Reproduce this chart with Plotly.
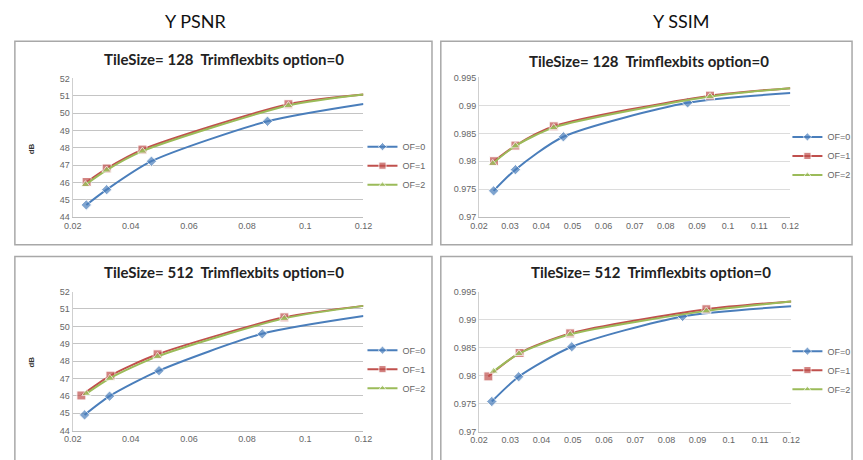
import plotly.graph_objects as go

# ---------------- data ----------------
series_names = ["OF=0", "OF=1", "OF=2"]
series_colors = ["#4A7EBB", "#C0504D", "#9BBB59"]
series_symbols = ["diamond", "square", "triangle-up"]

# bitrate (x) for TileSize=128, per OF option (last value = where the curve meets the axis end)
bpp128_of0 = [0.0247, 0.0317, 0.0471, 0.0870, 0.12]
bpp128_of1 = [0.0248, 0.0317, 0.0440, 0.0942, 0.12]
bpp128_of2 = [0.0244, 0.0317, 0.0440, 0.0942, 0.12]
# bitrate (x) for TileSize=512
bpp512_of0 = [0.0241, 0.0327, 0.0497, 0.0852, 0.12]
bpp512_of1 = [0.0230, 0.0330, 0.0492, 0.0928, 0.12]
bpp512_of2 = [0.0247, 0.0328, 0.0492, 0.0928, 0.12]

psnr128_of0 = [44.71, 45.59, 47.23, 49.53, 50.53]
psnr128_of1 = [46.03, 46.81, 47.90, 50.51, 51.07]
psnr128_of2 = [45.88, 46.72, 47.81, 50.44, 51.07]

ssim128_of0 = [0.97472, 0.97851, 0.98439, 0.99045, 0.99220]
ssim128_of1 = [0.98002, 0.98282, 0.98626, 0.99174, 0.99308]
ssim128_of2 = [0.97962, 0.98276, 0.98603, 0.99157, 0.99308]

psnr512_of0 = [44.90, 45.98, 47.45, 49.57, 50.59]
psnr512_of1 = [46.02, 47.16, 48.39, 50.52, 51.18]
psnr512_of2 = [46.13, 47.01, 48.27, 50.46, 51.18]

ssim512_of0 = [0.97536, 0.97979, 0.98515, 0.99057, 0.99238]
ssim512_of1 = [0.97985, 0.98404, 0.98754, 0.99185, 0.99325]
ssim512_of2 = [0.98078, 0.98393, 0.98737, 0.99156, 0.99325]

column_titles = ["Y PSNR", "Y SSIM"]
panel_titles = ["TileSize= 128  Trimflexbits option=0",
                "TileSize= 128  Trimflexbits option=0",
                "TileSize= 512  Trimflexbits option=0",
                "TileSize= 512  Trimflexbits option=0"]
psnr_yticks = [44, 45, 46, 47, 48, 49, 50, 51, 52]
ssim_yticks = [0.97, 0.975, 0.98, 0.985, 0.99, 0.995]
psnr_xticks = [0.02, 0.04, 0.06, 0.08, 0.1, 0.12]
ssim_xticks = [0.02, 0.03, 0.04, 0.05, 0.06, 0.07, 0.08, 0.09, 0.1, 0.11, 0.12]
psnr_ytitle = "dB"

# ---------------- layout helpers ----------------
W, H = 863, 460
def px(x):
    return x / W
def py(y):
    return 1 - y / H

panels = [
    # (xs, ys, xdomain px, ydomain px(top,bottom), yticks, xticks, title center, legend pos)
    ([bpp128_of0, bpp128_of1, bpp128_of2], [psnr128_of0, psnr128_of1, psnr128_of2],
     (65, 362), (75, 217), psnr_yticks, psnr_xticks, (220, 55), 361, 130),
    ([bpp128_of0, bpp128_of1, bpp128_of2], [ssim128_of0, ssim128_of1, ssim128_of2],
     (480, 798), (74, 217), ssim_yticks, ssim_xticks, (654, 57), 795, 120),
    ([bpp512_of0, bpp512_of1, bpp512_of2], [psnr512_of0, psnr512_of1, psnr512_of2],
     (65, 362), (293, 435), psnr_yticks, psnr_xticks, (220, 273), 361, 338),
    ([bpp512_of0, bpp512_of1, bpp512_of2], [ssim512_of0, ssim512_of1, ssim512_of2],
     (480, 799), (293, 436), ssim_yticks, ssim_xticks, (656, 273), 795, 339),
]

fig = go.Figure()
layout = dict(
    width=W, height=H,
    margin=dict(l=0, r=0, t=0, b=0),
    paper_bgcolor="white", plot_bgcolor="white",
    font=dict(family="Liberation Sans, Arial, sans-serif", size=9, color="#595959"),
    hovermode=False,
    shapes=[], annotations=[],
)

marker_sizes = [8, 9, 8]
for i, (xs, ys, xd, yd, yt, xt, tpos, leg_x, leg_y) in enumerate(panels):
    n = i + 1
    xa = "x" if n == 1 else f"x{n}"
    ya = "y" if n == 1 else f"y{n}"
    leg = "legend" if n == 1 else f"legend{n}"
    for k in range(3):
        sizes = [marker_sizes[k]] * (len(xs[k]) - 1) + [0]
        fig.add_trace(go.Scatter(
            x=xs[k], y=ys[k], name=series_names[k], xaxis=xa, yaxis=ya, legend=leg,
            mode="lines+markers",
            line=dict(color=series_colors[k], width=2, shape="spline", smoothing=0.7),
            marker=dict(symbol=series_symbols[k], size=sizes, color=series_colors[k]),
        ))
    grid_col = "#C4C4C4" if yt is psnr_yticks else "#DCDCDC"
    layout[f"xaxis{'' if n == 1 else n}"] = dict(
        domain=[px(xd[0]), px(xd[1])], anchor=ya,
        range=[0.02, 0.12], tickvals=xt, showgrid=False, zeroline=False,
        showline=True, linecolor="#BDBDBD", linewidth=1, ticks="",
        tickfont=dict(size=9, color="#666666"),
    )
    layout[f"yaxis{'' if n == 1 else n}"] = dict(
        domain=[py(yd[1]), py(yd[0])], anchor=xa,
        range=[yt[0], yt[-1]], tickvals=yt, showgrid=True, gridcolor=grid_col,
        zeroline=False, showline=True, linecolor="#CFCFCF", linewidth=1, ticks="",
        tickfont=dict(size=9, color="#666666"),
    )
    layout[leg] = dict(
        x=px(leg_x), y=py(leg_y), xanchor="left", yanchor="top",
        font=dict(size=9, color="#666666"), bgcolor="rgba(0,0,0,0)",
        tracegroupgap=0, itemwidth=30,
    )
    layout["annotations"].append(dict(
        text=f"<b>{panel_titles[i]}</b>", x=px(tpos[0]), y=py(tpos[1]),
        xref="paper", yref="paper", showarrow=False, xanchor="center", yanchor="middle",
        font=dict(family="Lato, sans-serif", size=15, color="#222222"),
    ))

# panel frames
for (x0, x1, y0, y1) in [(6, 432, 37, 245), (441, 861, 37, 245),
                         (6, 432, 257, 470), (441, 861, 257, 470)]:
    layout["shapes"].append(dict(
        type="rect", xref="paper", yref="paper",
        x0=px(x0), x1=px(x1), y0=py(y1), y1=py(y0),
        line=dict(color="#A8A8A8", width=1.5), fillcolor="rgba(0,0,0,0)", layer="below",
    ))

# column headers
for txt, cx in zip(column_titles, [190, 686]):
    layout["annotations"].append(dict(
        text=txt, x=px(cx), y=py(16), xref="paper", yref="paper", showarrow=False,
        xanchor="center", yanchor="middle",
        font=dict(family="Lato, sans-serif", size=18, color="#111111"),
    ))

# dB axis titles
for cy in [147, 365]:
    layout["annotations"].append(dict(
        text=f"<b>{psnr_ytitle}</b>", x=px(23), y=py(cy), xref="paper", yref="paper",
        showarrow=False, textangle=-90, xanchor="center", yanchor="middle",
        font=dict(size=8, color="#333333"),
    ))

fig.update_layout(**layout)
fig.write_html("out.html", config={"displayModeBar": False},
               post_script="document.body.style.margin='0';")
